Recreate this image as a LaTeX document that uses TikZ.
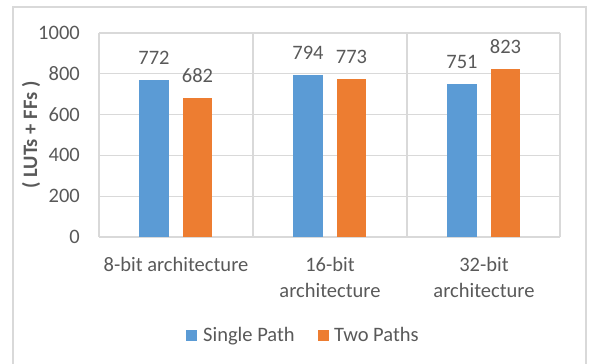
\documentclass[tikz,border=0pt]{standalone}
\usepackage{fontspec}
\setmainfont{Carlito}
\usetikzlibrary{positioning}
\definecolor{singlepath}{HTML}{5B9BD5}
\definecolor{twopaths}{HTML}{ED7D31}
\definecolor{gridgray}{HTML}{D9D9D9}
\definecolor{labelgray}{HTML}{595959}

\begin{document}
\begin{tikzpicture}[x=1pt,y=-1pt,font=\fontsize{20.5}{26}\selectfont,text=labelgray]
    \tikzstyle{grid}=[draw=gridgray, line width=1.2pt]
    \tikzstyle{tick}=[anchor=east, inner sep=0pt]
    \tikzstyle{vlabel}=[anchor=base, inner sep=0pt]
    \tikzstyle{catlabel}=[anchor=north, inner sep=0pt, align=center]
    \tikzstyle{key}=[minimum size=11pt, inner sep=0pt]
    \useasboundingbox (0,0) rectangle (589,364);

    % chart frame
    \draw[grid] (13,364) -- (13,7) -- (586,7) -- (586,364);

    % grid and value axis
    \foreach \v in {0,200,...,1000} {
        \draw[grid] (99,237-0.204*\v) -- (560,237-0.204*\v);
        \node[tick] (tick\v) at (80,237-0.204*\v) {\v};
    }
    \foreach \x in {99,253,407,560}
        \draw[grid] (\x,33) -- (\x,237);
    \node[rotate=90, font=\fontsize{20.5}{24}\selectfont\bfseries] (ytitle) at (31,135) {( LUTs + FFs )};

    % bars
    \foreach \c/\a/\b in {176/772/682, 330/794/773, 484/751/823} {
        \fill[singlepath] (\c-37,237) rectangle (\c-7,237-0.204*\a);
        \fill[twopaths] (\c+7,237) rectangle (\c+36,237-0.204*\b);
        \node[vlabel] (single\c) at (\c-22,237-0.204*\a-15.5) {\a};
        \node[vlabel] (two\c) at (\c+21.5,237-0.204*\b-15.5) {\b};
    }

    % categories
    \node[catlabel] (cat8) at (176,257) {8-bit architecture};
    \node[catlabel] (cat16) at (330,257) {16-bit\\architecture};
    \node[catlabel] (cat32) at (484,257) {32-bit\\architecture};

    % legend
    \node[key, fill=singlepath] (keysingle) at (191.5,335) {};
    \node[anchor=base west, inner sep=0pt] (txtsingle) at (203,341) {Single Path};
    \node[key, fill=twopaths] (keytwo) at (323.5,335) {};
    \node[anchor=base west, inner sep=0pt] (txttwo) at (334,341) {Two Paths};
\end{tikzpicture}
\end{document}
